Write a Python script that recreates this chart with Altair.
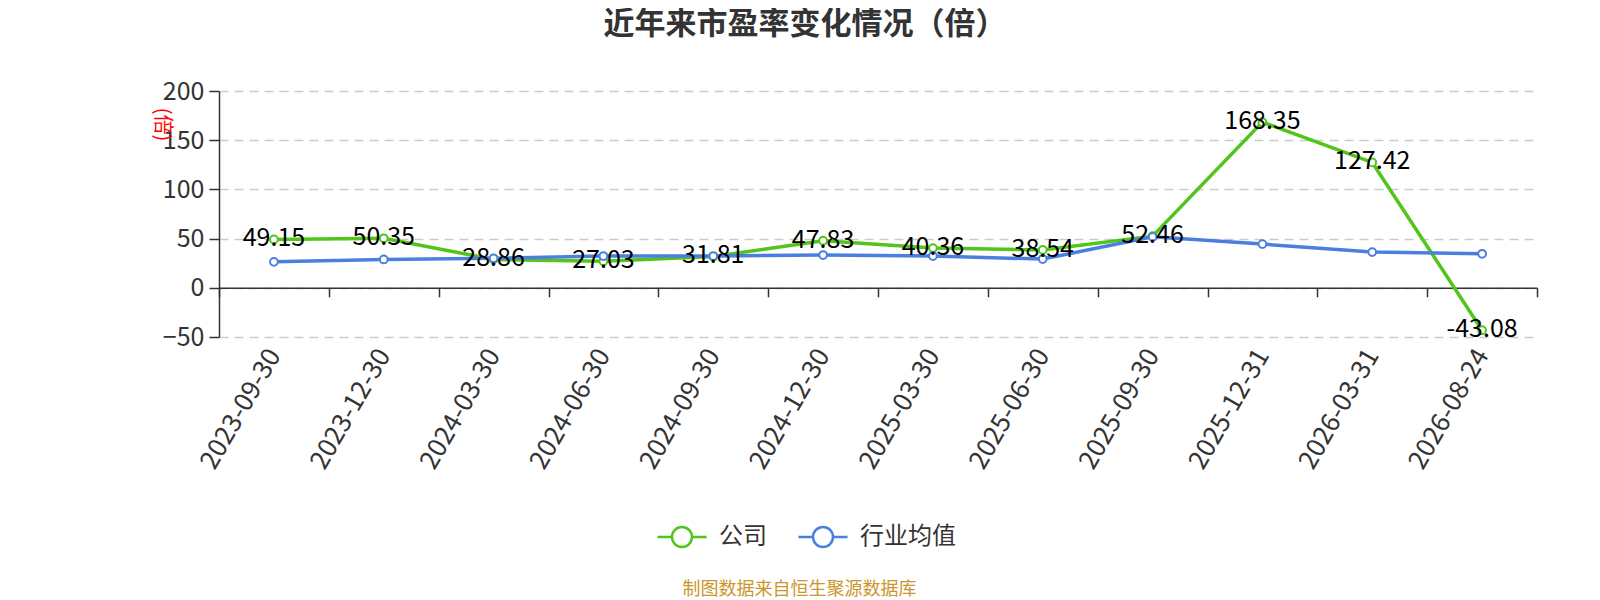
import altair as alt
import pandas as pd

dates = ["2023-09-30", "2023-12-30", "2024-03-30", "2024-06-30", "2024-09-30", "2024-12-30",
         "2025-03-30", "2025-06-30", "2025-09-30", "2025-12-31", "2026-03-31", "2026-08-24"]
company = [49.15, 50.35, 28.86, 27.03, 31.81, 47.83, 40.36, 38.54, 52.46, 168.35, 127.42, -43.08]
industry = [26.4, 28.8, 30.0, 32.3, 32.3, 33.3, 32.3, 29.2, 51.8, 44.4, 36.3, 34.6]
series_names = ["公司", "行业均值"]
series_colors = ["#52c41a", "#4a7fe0"]
y_ticks = [-50, 0, 50, 100, 150, 200]

rows = []
for d, v in zip(dates, company):
    rows.append({"date": d, "value": v, "series": series_names[0], "label": f"{v:.2f}"})
for d, v in zip(dates, industry):
    rows.append({"date": d, "value": v, "series": series_names[1], "label": ""})
df = pd.DataFrame(rows)

FONT = "Noto Sans CJK SC"
W, H = 1318, 246
zero_offset = -H * 50 / 250  # axis line drawn at value 0

x_enc = alt.X(
    "date:N", sort=dates,
    scale=alt.Scale(paddingInner=0, paddingOuter=0),
    axis=alt.Axis(
        orient="bottom", offset=zero_offset, labelAngle=-60, labelFontSize=26,
        labelColor="#333333", labelFont=FONT, labelPadding=54,
        domainColor="#333333", domainWidth=1.5, tickColor="#333333", tickWidth=1.5,
        tickSize=9, tickBand="extent", grid=False,
        title="制图数据来自恒生聚源数据库", titleColor="#c9962e", titleFontSize=18,
        titleFont=FONT, titleFontWeight="normal", titleX=580, titleY=302,
        titleAlign="center", titleBaseline="middle", labelOverlap=False,
    ),
)
y_enc = alt.Y(
    "value:Q",
    scale=alt.Scale(domain=[-50, 200], nice=False, zero=False),
    axis=alt.Axis(
        values=y_ticks, labelFontSize=25, labelColor="#333333", labelFont=FONT,
        labelPadding=5, tickSize=10, tickColor="#333333", tickWidth=1.5,
        domainColor="#333333", domainWidth=1.5,
        grid=True, gridColor="#cccccc", gridDash=[9, 6], gridWidth=1.5,
        title="(倍)", titleColor="red", titleFontSize=20, titleFont=FONT,
        titleFontWeight="normal", titleAngle=90, titleX=-58, titleY=33,
        titleAlign="center", titleBaseline="middle",
    ),
)

legend_path = "M-2.45,0L-1,0M1,0L2.45,0M1,0A1,1,0,1,1,-1,0A1,1,0,1,1,1,0Z"
color_enc = alt.Color(
    "series:N",
    scale=alt.Scale(domain=series_names, range=series_colors),
    legend=alt.Legend(
        title=None, orient="none", direction="horizontal", legendX=451, legendY=434,
        symbolType=legend_path, symbolSize=400, symbolStrokeWidth=2.5,
        symbolFillColor="white", labelFontSize=24, labelColor="#333333", labelFont=FONT,
        labelOffset=25, columnPadding=26, padding=0,
    ),
)

base = alt.Chart(df)

lines = base.mark_line(strokeWidth=3.5).encode(x=x_enc, y=y_enc, color=color_enc,
                                               order=alt.Order("series:N"))
points = base.mark_point(shape="circle", filled=False, fill="white", size=60,
                         strokeWidth=2, opacity=1).encode(
    x=alt.X("date:N", sort=dates), y="value:Q",
    color=alt.Color("series:N", legend=None))
labels = base.transform_filter(alt.datum.series == series_names[0]).mark_text(
    fontSize=25, font=FONT, color="black", baseline="middle", align="center", dy=-1
).encode(x=alt.X("date:N", sort=dates), y="value:Q", text="label:N")

chart = alt.layer(lines, points, labels).properties(
    width=W, height=H,
    background="white",
    autosize=alt.AutoSizeParams(type="none"),
    padding={"left": 211, "top": 83, "right": 55, "bottom": 263},
    title=alt.TitleParams(
        "近年来市盈率变化情况（倍）", fontSize=31, fontWeight="bold", color="#333333",
        font=FONT, anchor="middle", dx=-73, offset=38,
    ),
).configure_view(stroke=None)

chart.save("out.html", embed_options={"renderer": "svg", "actions": False})
